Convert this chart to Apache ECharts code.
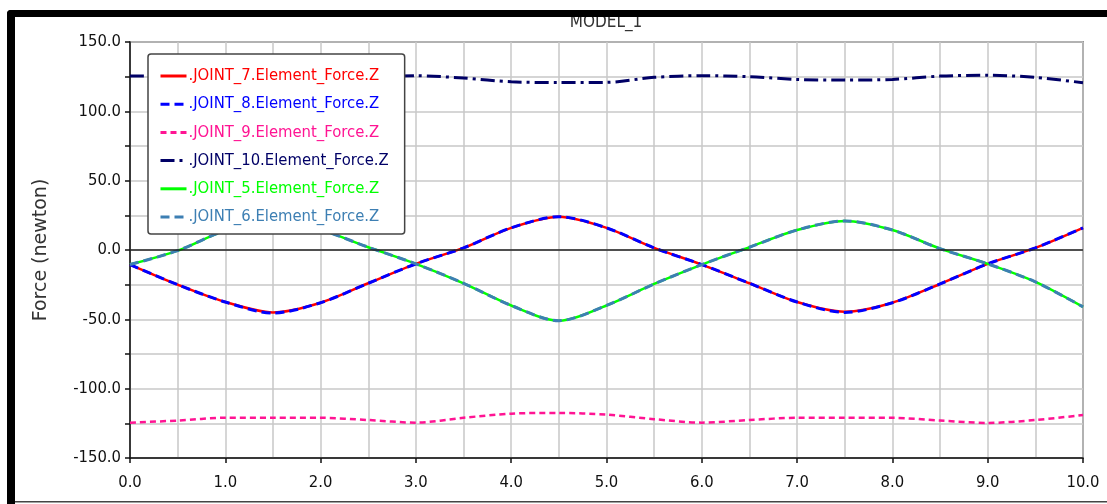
<!DOCTYPE html>
<html>
<head>
<meta charset="utf-8">
<script src="https://cdn.jsdelivr.net/npm/echarts@6/dist/echarts.min.js"></script>
<style>
    html, body { margin: 0; padding: 0; background: #fff; }
    #graficas { width: 1107px; height: 504px; }
</style>
</head>
<body>
<div id="graficas"></div>
<script>
// tiempos (s) y valores
const tiempo = [0, 0.5, 1, 1.5, 2, 2.5, 3, 3.5, 4, 4.5, 5, 5.5, 6, 6.5, 7, 7.5, 8, 8.5, 9, 9.5, 10];

const joint_7 = [-10.5, -25, -37.5, -45, -38, -24, -10, 1.5, 16, 24, 16, 1.5, -10.5, -24, -37.5, -44.5, -38, -24.5, -10, 1.5, 16];
const joint_8 = [-10.5, -25, -37.5, -45.5, -38, -24, -10, 1.5, 16, 24, 16, 1.5, -10.5, -24, -37.5, -45, -38, -24.5, -10, 1.5, 16];
const joint_9 = [-124.5, -123, -121, -121, -121, -122.6, -124.5, -121, -118, -117.5, -118.7, -122, -124.5, -122.6, -121, -121, -121, -123, -124.7, -122.6, -119];
const joint_10 = [125.4, 125.3, 124.5, 123, 123, 124.5, 125.7, 124, 121.3, 120.8, 120.9, 124.5, 125.7, 125, 123, 122.6, 123, 125.4, 126, 124.5, 120.6];
const joint_5 = [-10.5, -0.5, 14, 20.5, 14.5, 2, -10, -24, -40, -51, -40, -24.5, -10.5, 2, 14.4, 21, 14.4, 1, -10, -23, -41];
const joint_6 = [-10.5, -0.5, 14, 20.5, 14.5, 2, -10, -24, -40, -51, -40, -24.5, -10.5, 2, 14.4, 21, 14.4, 1, -10, -23, -41];

const nombres = ['.JOINT_7.Element_Force.Z', '.JOINT_8.Element_Force.Z', '.JOINT_9.Element_Force.Z',
    '.JOINT_10.Element_Force.Z', '.JOINT_5.Element_Force.Z', '.JOINT_6.Element_Force.Z'];

const fuente = "'DejaVu Sans Condensed', 'Liberation Sans', sans-serif";

let grafica = echarts.init(document.querySelector('#graficas'), null, { renderer: 'canvas' });

//arma los pares [x, y]
function pares(valores) {
    return tiempo.map((t, i) => [t, valores[i]]);
}

function serie(name, valores, color, tipo, ancho) {
    return {
        name: name,
        type: 'line',
        data: pares(valores),
        symbol: 'none',
        smooth: 0.3,
        lineStyle: { color: color, width: ancho, type: tipo, cap: 'butt' },
        itemStyle: { color: color },
        emphasis: { disabled: true },
        animation: false
    };
}

let series = [
    serie(nombres[0], joint_7, '#ff0000', 'solid', 2.5),
    serie(nombres[1], joint_8, '#0000ff', [9, 5], 3),
    serie(nombres[2], joint_9, '#ff1493', [6, 4], 2.5),
    serie(nombres[3], joint_10, '#000066', [14, 5, 3, 5], 3),
    serie(nombres[4], joint_5, '#00ff00', 'solid', 2.5),
    serie(nombres[5], joint_6, '#3d7fb3', [9, 5], 3)
];

// linea negra en cero
series[0].markLine = {
    silent: true,
    symbol: 'none',
    label: { show: false },
    lineStyle: { color: '#222', width: 1.5, type: 'solid' },
    data: [{ yAxis: 0 }],
    animation: false
};

// orden de dibujo: primero las solidas, encima las punteadas
series[0].z = 2; series[1].z = 3; series[4].z = 2; series[5].z = 3;

const colores_texto = ['#ff0000', '#0000ff', '#ff1493', '#000066', '#00ff00', '#3d7fb3'];

let option = {
    backgroundColor: '#ffffff',
    animation: false,
    grid: {
        left: 130, right: 24, top: 42, bottom: 46,
        show: true, borderColor: '#444', borderWidth: 1.5, backgroundColor: 'transparent'
    },
    legend: {
        orient: 'vertical',
        left: 148, top: 54,
        padding: [12, 16, 7, 11],
        itemWidth: 26, itemHeight: 14, itemGap: 8.2,
        backgroundColor: '#fff',
        borderColor: '#444', borderWidth: 1.5, borderRadius: 3,
        selectedMode: false,
        itemStyle: { opacity: 0 },
        lineStyle: { width: 3 },
        textStyle: { fontFamily: fuente, fontSize: 16.5, lineHeight: 20, padding: [0, 0, 0, -3] },
        data: nombres.map((n, i) => ({ name: n, textStyle: { color: colores_texto[i] } }))
    },
    xAxis: {
        type: 'value',
        min: 0, max: 10, interval: 1,
        axisLine: { onZero: false, lineStyle: { color: '#111', width: 1.5 } },
        axisTick: { show: true, length: 5, lineStyle: { color: '#111', width: 1.5 } },
        minorTick: { show: false, splitNumber: 2 },
        splitLine: { show: true, lineStyle: { color: '#c8c8c8', width: 1.5 } },
        minorSplitLine: { show: true, lineStyle: { color: '#c8c8c8', width: 1.5 } },
        axisLabel: {
            margin: 16, color: '#111', fontFamily: fuente, fontSize: 16.5,
            formatter: (v) => v.toFixed(1)
        }
    },
    yAxis: {
        type: 'value',
        min: -150, max: 150, interval: 50,
        name: 'Force (newton)',
        nameLocation: 'middle',
        nameGap: 79,
        nameTextStyle: { fontFamily: "'DejaVu Sans', sans-serif", fontSize: 19, color: '#333' },
        axisLine: { show: true, lineStyle: { color: '#111', width: 1.5 } },
        axisTick: { show: true, length: 5, lineStyle: { color: '#111', width: 1.5 } },
        minorTick: { show: true, splitNumber: 2, length: 5, lineStyle: { color: '#111', width: 1.5 } },
        splitLine: { show: true, lineStyle: { color: '#c8c8c8', width: 1.5 } },
        minorSplitLine: { show: true, lineStyle: { color: '#c8c8c8', width: 1.5 } },
        axisLabel: {
            margin: 9, color: '#111', fontFamily: fuente, fontSize: 16.5,
            formatter: (v) => v.toFixed(1)
        }
    },
    graphic: [
        {
            type: 'text', x: 606, y: 31, z: 50,
            style: {
                text: 'MODEL_1', fill: '#333', font: "17px " + fuente,
                textAlign: 'center', textVerticalAlign: 'bottom'
            }
        },
        // marco negro (arriba e izquierda)
        { type: 'rect', x: 7, y: 10, z: 100, shape: { width: 1100, height: 7, r: [4, 0, 0, 0] }, style: { fill: '#000' } },
        { type: 'rect', x: 7, y: 10, z: 100, shape: { width: 8, height: 494, r: [4, 0, 0, 0] }, style: { fill: '#000' } },
        { type: 'rect', x: 15, y: 501, z: 100, shape: { width: 1092, height: 1.5 }, style: { fill: '#444' } }
    ],
    series: series
};

grafica.setOption(option);
</script>
</body>
</html>
